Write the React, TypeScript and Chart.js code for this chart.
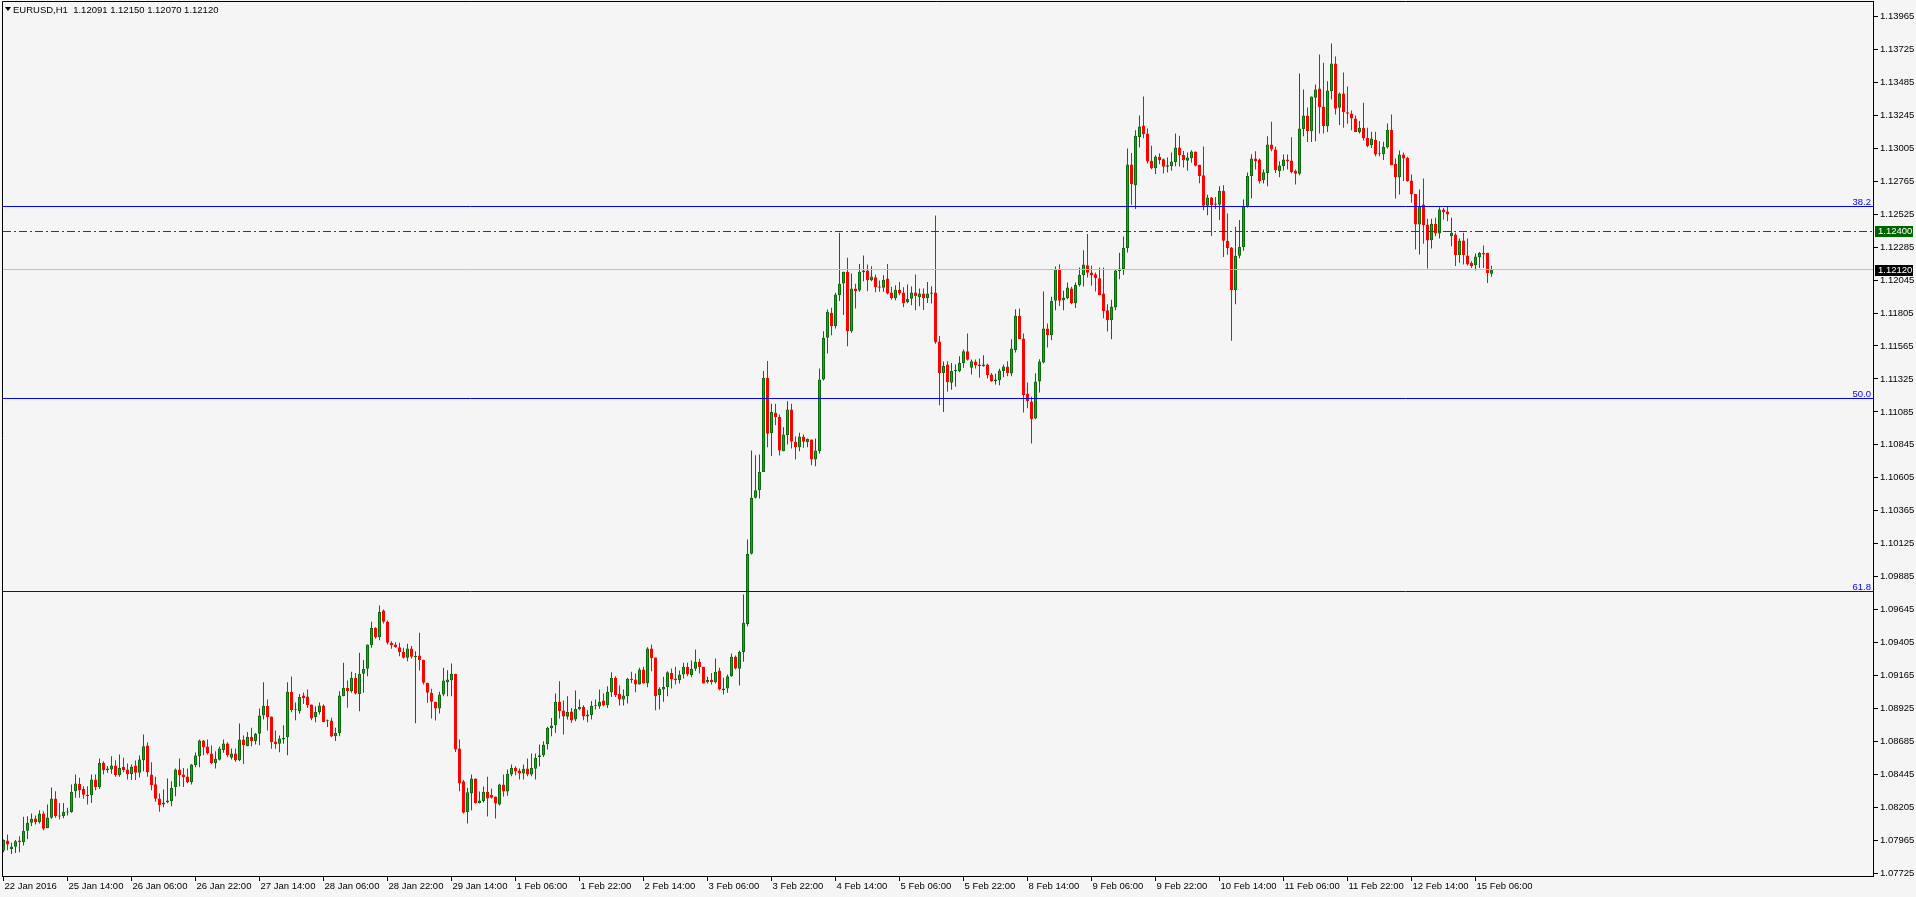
import React, { useEffect, useRef } from 'react';
import { Chart, registerables } from 'chart.js';

Chart.register(...registerables);

const SYMBOL = 'EURUSD,H1';

const OPEN = [
  1.07888, 1.07963, 1.07902, 1.07917, 1.07963, 1.07951, 1.08034, 1.08092, 1.08123, 1.08097,
  1.08160, 1.08055, 1.08128, 1.08269, 1.08145, 1.08140, 1.08167, 1.08170, 1.08322, 1.08376,
  1.08339, 1.08296, 1.08293, 1.08407, 1.08352, 1.08529, 1.08475, 1.08480, 1.08509, 1.08439,
  1.08500, 1.08480, 1.08446, 1.08509, 1.08456, 1.08548, 1.08655, 1.08444, 1.08373, 1.08269,
  1.08225, 1.08242, 1.08249, 1.08352, 1.08480, 1.08444, 1.08429, 1.08388, 1.08512, 1.08577,
  1.08691, 1.08648, 1.08597, 1.08526, 1.08551, 1.08623, 1.08670, 1.08565, 1.08597, 1.08548,
  1.08699, 1.08650, 1.08718, 1.08687, 1.08740, 1.08873, 1.08944, 1.08866, 1.08684, 1.08667,
  1.08699, 1.08716, 1.09046, 1.08912, 1.08905, 1.09019, 1.09012, 1.08954, 1.08861, 1.08898,
  1.08946, 1.08832, 1.08837, 1.08723, 1.08747, 1.09014, 1.09075, 1.09051, 1.09148, 1.09031,
  1.09177, 1.09214, 1.09386, 1.09512, 1.09444, 1.09638, 1.09556, 1.09403, 1.09391, 1.09371,
  1.09337, 1.09294, 1.09362, 1.09299, 1.09311, 1.09279, 1.09112, 1.09039, 1.08973, 1.08924,
  1.09027, 1.09116, 1.09131, 1.09177, 1.08633, 1.08395, 1.08170, 1.08305, 1.08415, 1.08237,
  1.08250, 1.08318, 1.08296, 1.08284, 1.08225, 1.08371, 1.08320, 1.08444, 1.08492, 1.08473,
  1.08451, 1.08487, 1.08444, 1.08485, 1.08572, 1.08584, 1.08665, 1.08781, 1.08803, 1.08973,
  1.08910, 1.08864, 1.08903, 1.08844, 1.08920, 1.08937, 1.08866, 1.08878, 1.08941, 1.08939,
  1.08983, 1.08949, 1.09043, 1.09148, 1.09031, 1.08990, 1.09014, 1.09141, 1.09136, 1.09099,
  1.09209, 1.09109, 1.09361, 1.09296, 1.09022, 1.09063, 1.09082, 1.09184, 1.09143, 1.09131,
  1.09172, 1.09228, 1.09168, 1.09214, 1.09265, 1.09228, 1.09116, 1.09133, 1.09116, 1.09201,
  1.09058, 1.09070, 1.09160, 1.09301, 1.09214, 1.09337, 1.09541, 1.10051, 1.10459, 1.10515,
  1.10648, 1.11333, 1.10930, 1.11078, 1.11049, 1.10799, 1.10916, 1.11103, 1.10867, 1.10828,
  1.10906, 1.10865, 1.10884, 1.10738, 1.10799, 1.11321, 1.11625, 1.11807, 1.11710, 1.11935,
  1.12020, 1.12105, 1.11673, 1.11984, 1.11969, 1.12103, 1.12115, 1.12044, 1.12066, 1.11998,
  1.11989, 1.12057, 1.11955, 1.11913, 1.11974, 1.11955, 1.11884, 1.11909, 1.11955, 1.11921,
  1.11947, 1.11913, 1.11945, 1.11955, 1.11598, 1.11369, 1.11430, 1.11297, 1.11382, 1.11382,
  1.11440, 1.11527, 1.11406, 1.11452, 1.11430, 1.11418, 1.11430, 1.11357, 1.11309, 1.11316,
  1.11382, 1.11416, 1.11365, 1.11535, 1.11785, 1.11620, 1.11219, 1.11161, 1.11037, 1.11306,
  1.11445, 1.11692, 1.11644, 1.11894, 1.12125, 1.11899, 1.11913, 1.11984, 1.11877, 1.12010,
  1.12081, 1.12154, 1.12100, 1.12088, 1.12059, 1.11947, 1.11826, 1.11753, 1.11845, 1.12112,
  1.12125, 1.12278, 1.12887, 1.12736, 1.13088, 1.13171, 1.13113, 1.12914, 1.12860, 1.12943,
  1.12926, 1.12870, 1.12875, 1.12906, 1.13011, 1.12957, 1.12914, 1.12933, 1.12982, 1.12885,
  1.12809, 1.12586, 1.12647, 1.12603, 1.12593, 1.12695, 1.12331, 1.12282, 1.11972, 1.12222,
  1.12287, 1.12581, 1.12804, 1.12931, 1.12923, 1.12773, 1.12826, 1.13033, 1.12996, 1.12839,
  1.12875, 1.12923, 1.12916, 1.12839, 1.12819, 1.13145, 1.13244, 1.13130, 1.13373, 1.13441,
  1.13310, 1.13166, 1.13421, 1.13623, 1.13300, 1.13404, 1.13268, 1.13258, 1.13222, 1.13123,
  1.13154, 1.13081, 1.13028, 1.13067, 1.12967, 1.12962, 1.13013, 1.13140, 1.12892, 1.12795,
  1.12960, 1.12936, 1.12771, 1.12673, 1.12450, 1.12596, 1.12450, 1.12336, 1.12455, 1.12384,
  1.12559, 1.12545, 1.12365, 1.12377, 1.12227, 1.12333, 1.12224, 1.12171, 1.12154, 1.12212,
  1.12244, 1.12244, 1.12091,
];

const HIGH = [
  1.07970, 1.08007, 1.07946, 1.07966, 1.07995, 1.08136, 1.08140, 1.08160, 1.08145, 1.08184,
  1.08177, 1.08225, 1.08349, 1.08322, 1.08237, 1.08237, 1.08201, 1.08371, 1.08444, 1.08420,
  1.08359, 1.08359, 1.08444, 1.08444, 1.08560, 1.08541, 1.08505, 1.08577, 1.08548, 1.08590,
  1.08565, 1.08524, 1.08517, 1.08546, 1.08582, 1.08735, 1.08679, 1.08534, 1.08427, 1.08306,
  1.08334, 1.08414, 1.08395, 1.08488, 1.08560, 1.08492, 1.08488, 1.08521, 1.08604, 1.08699,
  1.08696, 1.08699, 1.08655, 1.08614, 1.08648, 1.08699, 1.08679, 1.08633, 1.08633, 1.08815,
  1.08728, 1.08754, 1.08784, 1.08747, 1.08924, 1.09116, 1.08990, 1.08866, 1.08764, 1.08728,
  1.08803, 1.09116, 1.09157, 1.08968, 1.09031, 1.09041, 1.09063, 1.08954, 1.08941, 1.08968,
  1.08954, 1.08844, 1.08857, 1.08784, 1.09051, 1.09257, 1.09129, 1.09192, 1.09184, 1.09330,
  1.09277, 1.09391, 1.09556, 1.09517, 1.09675, 1.09646, 1.09566, 1.09415, 1.09408, 1.09403,
  1.09367, 1.09396, 1.09379, 1.09342, 1.09476, 1.09279, 1.09112, 1.09068, 1.08973, 1.09046,
  1.09221, 1.09204, 1.09252, 1.09177, 1.08699, 1.08403, 1.08347, 1.08444, 1.08415, 1.08320,
  1.08356, 1.08427, 1.08342, 1.08284, 1.08376, 1.08444, 1.08480, 1.08517, 1.08504, 1.08487,
  1.08517, 1.08560, 1.08597, 1.08597, 1.08662, 1.08686, 1.08791, 1.08856, 1.09034, 1.09124,
  1.08983, 1.09014, 1.08929, 1.09056, 1.08990, 1.08949, 1.08912, 1.08980, 1.08990, 1.09063,
  1.09034, 1.09087, 1.09189, 1.09160, 1.09092, 1.09063, 1.09148, 1.09192, 1.09179, 1.09221,
  1.09228, 1.09371, 1.09391, 1.09296, 1.09080, 1.09155, 1.09196, 1.09216, 1.09228, 1.09201,
  1.09257, 1.09257, 1.09274, 1.09354, 1.09287, 1.09228, 1.09155, 1.09184, 1.09289, 1.09221,
  1.09148, 1.09172, 1.09325, 1.09311, 1.09347, 1.09755, 1.10156, 1.10804, 1.10770, 1.10775,
  1.11382, 1.11455, 1.11144, 1.11144, 1.11066, 1.10974, 1.11163, 1.11144, 1.10906, 1.10933,
  1.10920, 1.10892, 1.10884, 1.10892, 1.11401, 1.11673, 1.11831, 1.11843, 1.11952, 1.12389,
  1.12105, 1.12207, 1.12093, 1.12018, 1.12163, 1.12224, 1.12159, 1.12146, 1.12086, 1.12042,
  1.12081, 1.12163, 1.11996, 1.12008, 1.12032, 1.11993, 1.12013, 1.11998, 1.12086, 1.11984,
  1.11984, 1.12032, 1.12001, 1.12516, 1.11637, 1.11452, 1.11454, 1.11442, 1.11430, 1.11491,
  1.11539, 1.11656, 1.11467, 1.11467, 1.11474, 1.11498, 1.11435, 1.11369, 1.11362, 1.11399,
  1.11430, 1.11454, 1.11615, 1.11833, 1.11838, 1.11656, 1.11299, 1.11195, 1.11367, 1.11469,
  1.11962, 1.11729, 1.11923, 1.12144, 1.12161, 1.11967, 1.12027, 1.11996, 1.12027, 1.12137,
  1.12263, 1.12380, 1.12149, 1.12100, 1.12137, 1.12137, 1.11870, 1.11901, 1.12125, 1.12244,
  1.12362, 1.13004, 1.12970, 1.13137, 1.13244, 1.13382, 1.13149, 1.13023, 1.12955, 1.12969,
  1.12931, 1.12938, 1.12974, 1.13113, 1.13096, 1.12986, 1.12974, 1.12991, 1.12982, 1.12885,
  1.13018, 1.12666, 1.12651, 1.12651, 1.12729, 1.12736, 1.12530, 1.12287, 1.12433, 1.12482,
  1.12632, 1.12829, 1.12962, 1.12984, 1.12931, 1.12851, 1.13093, 1.13198, 1.13016, 1.12911,
  1.12960, 1.12960, 1.13086, 1.12851, 1.13550, 1.13433, 1.13302, 1.13382, 1.13470, 1.13688,
  1.13628, 1.13494, 1.13768, 1.13674, 1.13411, 1.13557, 1.13455, 1.13280, 1.13244, 1.13203,
  1.13336, 1.13154, 1.13125, 1.13125, 1.13057, 1.13052, 1.13186, 1.13251, 1.12931, 1.12989,
  1.12974, 1.12943, 1.12814, 1.12673, 1.12705, 1.12785, 1.12491, 1.12491, 1.12499, 1.12576,
  1.12571, 1.12584, 1.12499, 1.12389, 1.12348, 1.12389, 1.12348, 1.12183, 1.12239, 1.12249,
  1.12297, 1.12244, 1.12150,
];

const LOW = [
  1.07878, 1.07893, 1.07864, 1.07873, 1.07878, 1.07927, 1.07975, 1.08068, 1.08080, 1.08087,
  1.08038, 1.08053, 1.08121, 1.08128, 1.08116, 1.08126, 1.08145, 1.08165, 1.08274, 1.08274,
  1.08267, 1.08225, 1.08237, 1.08330, 1.08339, 1.08444, 1.08456, 1.08449, 1.08427, 1.08427,
  1.08461, 1.08407, 1.08403, 1.08403, 1.08422, 1.08468, 1.08427, 1.08330, 1.08245, 1.08172,
  1.08206, 1.08235, 1.08213, 1.08286, 1.08359, 1.08352, 1.08381, 1.08371, 1.08497, 1.08497,
  1.08585, 1.08589, 1.08521, 1.08488, 1.08546, 1.08602, 1.08570, 1.08553, 1.08536, 1.08541,
  1.08521, 1.08650, 1.08650, 1.08662, 1.08657, 1.08844, 1.08764, 1.08631, 1.08631, 1.08606,
  1.08667, 1.08585, 1.08898, 1.08839, 1.08886, 1.08958, 1.08929, 1.08839, 1.08825, 1.08881,
  1.08825, 1.08789, 1.08716, 1.08687, 1.08723, 1.09014, 1.08930, 1.09039, 1.09027, 1.08905,
  1.09039, 1.09160, 1.09367, 1.09432, 1.09422, 1.09544, 1.09391, 1.09359, 1.09367, 1.09306,
  1.09289, 1.09269, 1.09289, 1.08817, 1.09201, 1.09099, 1.08966, 1.08852, 1.08837, 1.08889,
  1.09014, 1.09014, 1.09014, 1.08607, 1.08322, 1.08160, 1.08087, 1.08184, 1.08233, 1.08233,
  1.08240, 1.08138, 1.08269, 1.08123, 1.08218, 1.08283, 1.08290, 1.08432, 1.08439, 1.08407,
  1.08407, 1.08432, 1.08432, 1.08407, 1.08504, 1.08572, 1.08626, 1.08723, 1.08747, 1.08852,
  1.08735, 1.08844, 1.08820, 1.08832, 1.08912, 1.08839, 1.08825, 1.08844, 1.08917, 1.08922,
  1.08941, 1.08929, 1.09009, 1.09009, 1.08946, 1.08946, 1.08961, 1.09111, 1.09043, 1.09099,
  1.09107, 1.09080, 1.09196, 1.08912, 1.08917, 1.08973, 1.09014, 1.09070, 1.09099, 1.09107,
  1.09143, 1.09160, 1.09153, 1.09197, 1.09180, 1.09107, 1.09107, 1.09099, 1.09107, 1.09058,
  1.09027, 1.09039, 1.09155, 1.09209, 1.09092, 1.09265, 1.09524, 1.10046, 1.10454, 1.10454,
  1.10648, 1.10828, 1.10763, 1.10988, 1.10767, 1.10799, 1.10848, 1.10818, 1.10738, 1.10799,
  1.10823, 1.10828, 1.10697, 1.10690, 1.10780, 1.11314, 1.11510, 1.11644, 1.11692, 1.11892,
  1.11790, 1.11564, 1.11661, 1.11838, 1.11960, 1.12037, 1.11964, 1.12037, 1.11957, 1.11960,
  1.11960, 1.11940, 1.11904, 1.11899, 1.11935, 1.11848, 1.11877, 1.11862, 1.11826, 1.11855,
  1.11828, 1.11879, 1.11874, 1.11581, 1.11134, 1.11085, 1.11231, 1.11246, 1.11268, 1.11374,
  1.11406, 1.11459, 1.11357, 1.11401, 1.11333, 1.11413, 1.11328, 1.11304, 1.11284, 1.11280,
  1.11338, 1.11345, 1.11345, 1.11518, 1.11615, 1.11081, 1.11112, 1.10855, 1.11032, 1.11226,
  1.11437, 1.11554, 1.11607, 1.11826, 1.11857, 1.11826, 1.11906, 1.11870, 1.11841, 1.11998,
  1.11998, 1.12064, 1.12003, 1.11962, 1.11935, 1.11768, 1.11670, 1.11615, 1.11826, 1.12052,
  1.12083, 1.12246, 1.12593, 1.12562, 1.13011, 1.13079, 1.12894, 1.12853, 1.12817, 1.12889,
  1.12821, 1.12829, 1.12841, 1.12875, 1.12872, 1.12865, 1.12841, 1.12899, 1.12872, 1.12751,
  1.12554, 1.12518, 1.12367, 1.12562, 1.12482, 1.12214, 1.12229, 1.11603, 1.11870, 1.12205,
  1.12258, 1.12574, 1.12642, 1.12851, 1.12749, 1.12749, 1.12729, 1.12984, 1.12826, 1.12795,
  1.12843, 1.12851, 1.12821, 1.12741, 1.12809, 1.13093, 1.13050, 1.13050, 1.13057, 1.13113,
  1.13113, 1.13123, 1.13361, 1.13251, 1.13174, 1.13154, 1.13183, 1.13137, 1.13123, 1.13113,
  1.13062, 1.13013, 1.13008, 1.12948, 1.12948, 1.12919, 1.13004, 1.12882, 1.12639, 1.12669,
  1.12766, 1.12761, 1.12608, 1.12268, 1.12232, 1.12309, 1.12130, 1.12275, 1.12365, 1.12348,
  1.12486, 1.12474, 1.12292, 1.12147, 1.12171, 1.12159, 1.12151, 1.12134, 1.12115, 1.12134,
  1.12134, 1.12023, 1.12070,
];

const CLOSE = [
  1.07966, 1.07934, 1.07919, 1.07958, 1.07951, 1.08034, 1.08092, 1.08121, 1.08097, 1.08160,
  1.08048, 1.08131, 1.08269, 1.08140, 1.08138, 1.08172, 1.08174, 1.08318, 1.08378, 1.08330,
  1.08296, 1.08286, 1.08407, 1.08352, 1.08529, 1.08475, 1.08488, 1.08509, 1.08439, 1.08492,
  1.08475, 1.08446, 1.08500, 1.08456, 1.08553, 1.08650, 1.08461, 1.08366, 1.08267, 1.08220,
  1.08240, 1.08254, 1.08347, 1.08480, 1.08439, 1.08424, 1.08388, 1.08517, 1.08582, 1.08691,
  1.08643, 1.08599, 1.08526, 1.08558, 1.08633, 1.08670, 1.08585, 1.08597, 1.08548, 1.08699,
  1.08657, 1.08718, 1.08687, 1.08740, 1.08873, 1.08944, 1.08861, 1.08679, 1.08665, 1.08706,
  1.08711, 1.09046, 1.08912, 1.08917, 1.09009, 1.09000, 1.08949, 1.08852, 1.08900, 1.08946,
  1.08825, 1.08837, 1.08721, 1.08747, 1.09019, 1.09075, 1.09051, 1.09148, 1.09034, 1.09177,
  1.09214, 1.09391, 1.09512, 1.09444, 1.09629, 1.09556, 1.09403, 1.09386, 1.09371, 1.09337,
  1.09294, 1.09362, 1.09301, 1.09303, 1.09277, 1.09112, 1.09039, 1.08973, 1.08924, 1.09027,
  1.09129, 1.09136, 1.09177, 1.08626, 1.08378, 1.08165, 1.08315, 1.08415, 1.08237, 1.08254,
  1.08318, 1.08269, 1.08274, 1.08233, 1.08371, 1.08320, 1.08449, 1.08492, 1.08466, 1.08451,
  1.08485, 1.08444, 1.08492, 1.08565, 1.08584, 1.08660, 1.08784, 1.08801, 1.08973, 1.08905,
  1.08866, 1.08900, 1.08837, 1.08922, 1.08937, 1.08866, 1.08881, 1.08944, 1.08946, 1.08973,
  1.08946, 1.09046, 1.09148, 1.09022, 1.08990, 1.09019, 1.09141, 1.09131, 1.09099, 1.09209,
  1.09107, 1.09361, 1.09291, 1.09014, 1.09068, 1.09082, 1.09189, 1.09136, 1.09131, 1.09172,
  1.09228, 1.09172, 1.09214, 1.09265, 1.09226, 1.09107, 1.09133, 1.09116, 1.09192, 1.09063,
  1.09070, 1.09160, 1.09301, 1.09216, 1.09337, 1.09549, 1.10051, 1.10459, 1.10515, 1.10648,
  1.11333, 1.10925, 1.11085, 1.11047, 1.10804, 1.10920, 1.11103, 1.10867, 1.10828, 1.10906,
  1.10867, 1.10889, 1.10738, 1.10804, 1.11321, 1.11625, 1.11814, 1.11710, 1.11940, 1.12018,
  1.12105, 1.11673, 1.11984, 1.11964, 1.12105, 1.12115, 1.12044, 1.12071, 1.11993, 1.11989,
  1.12047, 1.11947, 1.11913, 1.11974, 1.11947, 1.11877, 1.11909, 1.11955, 1.11928, 1.11947,
  1.11913, 1.11947, 1.11955, 1.11593, 1.11369, 1.11420, 1.11301, 1.11382, 1.11389, 1.11442,
  1.11527, 1.11464, 1.11454, 1.11423, 1.11418, 1.11430, 1.11352, 1.11309, 1.11321, 1.11386,
  1.11416, 1.11369, 1.11547, 1.11785, 1.11615, 1.11209, 1.11165, 1.11032, 1.11306, 1.11452,
  1.11692, 1.11644, 1.11894, 1.12125, 1.11894, 1.11918, 1.11991, 1.11877, 1.12010, 1.12083,
  1.12159, 1.12098, 1.12081, 1.12059, 1.11935, 1.11819, 1.11753, 1.11853, 1.12115, 1.12129,
  1.12280, 1.12887, 1.12744, 1.13096, 1.13164, 1.13108, 1.12909, 1.12860, 1.12945, 1.12918,
  1.12870, 1.12882, 1.12909, 1.13011, 1.12955, 1.12918, 1.12938, 1.12982, 1.12877, 1.12804,
  1.12586, 1.12647, 1.12591, 1.12593, 1.12695, 1.12331, 1.12278, 1.11972, 1.12222, 1.12287,
  1.12581, 1.12804, 1.12931, 1.12911, 1.12766, 1.12831, 1.13033, 1.12996, 1.12846, 1.12880,
  1.12923, 1.12911, 1.12831, 1.12819, 1.13149, 1.13244, 1.13130, 1.13382, 1.13433, 1.13305,
  1.13166, 1.13426, 1.13623, 1.13293, 1.13404, 1.13268, 1.13256, 1.13222, 1.13123, 1.13154,
  1.13079, 1.13021, 1.13077, 1.12960, 1.12962, 1.13016, 1.13140, 1.12882, 1.12795, 1.12960,
  1.12931, 1.12766, 1.12669, 1.12450, 1.12581, 1.12445, 1.12333, 1.12455, 1.12384, 1.12559,
  1.12540, 1.12523, 1.12389, 1.12227, 1.12333, 1.12227, 1.12159, 1.12147, 1.12217, 1.12244,
  1.12231, 1.12096, 1.12120,
];

// time axis: one label every 16 hourly bars
const X_TICK_INDEX = [0, 16, 32, 48, 64, 80, 96, 112, 128, 144, 160, 176, 192, 208, 224, 240, 256, 272, 288, 304, 320, 336, 352, 368];
const X_TICK_LABELS = [
  '22 Jan 2016', '25 Jan 14:00', '26 Jan 06:00', '26 Jan 22:00', '27 Jan 14:00', '28 Jan 06:00',
  '28 Jan 22:00', '29 Jan 14:00', '1 Feb 06:00', '1 Feb 22:00', '2 Feb 14:00', '3 Feb 06:00',
  '3 Feb 22:00', '4 Feb 14:00', '5 Feb 06:00', '5 Feb 22:00', '8 Feb 14:00', '9 Feb 06:00',
  '9 Feb 22:00', '10 Feb 14:00', '11 Feb 06:00', '11 Feb 22:00', '12 Feb 14:00', '15 Feb 06:00',
];

const Y_TICKS = [
  1.13965, 1.13725, 1.13485, 1.13245, 1.13005, 1.12765, 1.12525, 1.12285, 1.12045, 1.11805,
  1.11565, 1.11325, 1.11085, 1.10845, 1.10605, 1.10365, 1.10125, 1.09885, 1.09645, 1.09405,
  1.09165, 1.08925, 1.08685, 1.08445, 1.08205, 1.07965, 1.07725,
];

const FIB_LEVELS = [1.12583, 1.1118, 1.09777];
const FIB_LABELS = ['38.2', '50.0', '61.8'];
const ALERT_LEVEL = 1.124;
const BID_LEVEL = 1.1212;

const Y_MIN = 1.077046;
const Y_MAX = 1.140779;
const X_MIN = -0.375;
const X_MAX = 467.375;

const BG = '#f5f5f5';
const UP_FILL = '#1ca51c';
const UP_LINE = '#0b6c0b';
const DOWN = '#ff0000';
const FONT_FAMILY = '"Liberation Sans", Arial, sans-serif';
const AXIS_FONT = { family: FONT_FAMILY, size: 9.5 };
const AXIS_FONT_CSS = `9.5px ${FONT_FAMILY}`;
const HEAD_FONT_CSS = `9.5px ${FONT_FAMILY}`;

const overlayPlugin = {
  id: 'mt4Overlay',
  afterDatasetsDraw(chart: any) {
    const { ctx, chartArea: a, scales } = chart;
    const ys = scales.y;
    const py = (v: number) => Math.floor(ys.getPixelForValue(v)) + 0.5;
    const hline = (y: number) => {
      ctx.beginPath();
      ctx.moveTo(a.left + 1, y);
      ctx.lineTo(a.right, y);
      ctx.stroke();
    };
    ctx.save();
    ctx.lineWidth = 1;
    ctx.strokeStyle = '#c0c0c0';
    hline(py(BID_LEVEL));
    ctx.strokeStyle = '#006400';
    ctx.setLineDash([8, 3, 2, 3]);
    hline(py(ALERT_LEVEL));
    ctx.setLineDash([]);
    ctx.strokeStyle = '#0000ff';
    ctx.fillStyle = '#0000ff';
    ctx.font = AXIS_FONT_CSS;
    ctx.textAlign = 'right';
    ctx.textBaseline = 'bottom';
    FIB_LEVELS.forEach((lv, i) => {
      const y = py(lv);
      hline(y);
      ctx.fillText(FIB_LABELS[i], a.right - 2, y + 0.5);
    });
    ctx.restore();
  },
  afterDraw(chart: any) {
    const { ctx, chartArea: a, scales } = chart;
    const ys = scales.y;
    ctx.save();
    // frame
    ctx.strokeStyle = '#000';
    ctx.lineWidth = 1;
    ctx.beginPath();
    ctx.moveTo(a.left + 0.5, a.bottom);
    ctx.lineTo(a.left + 0.5, a.top + 0.5);
    ctx.lineTo(a.right, a.top + 0.5);
    ctx.stroke();
    // header
    ctx.fillStyle = '#000';
    ctx.beginPath();
    ctx.moveTo(5, 7);
    ctx.lineTo(11, 7);
    ctx.lineTo(8, 11);
    ctx.closePath();
    ctx.fill();
    const n = CLOSE.length - 1;
    const head = `${SYMBOL}  ${OPEN[n].toFixed(5)} ${HIGH[n].toFixed(5)} ${LOW[n].toFixed(5)} ${CLOSE[n].toFixed(5)}`;
    ctx.font = HEAD_FONT_CSS;
    ctx.textAlign = 'left';
    ctx.textBaseline = 'middle';
    ctx.fillText(head, 13, 10);
    // price boxes
    const box = (v: number, bg: string) => {
      const y = Math.round(ys.getPixelForValue(v));
      ctx.fillStyle = bg;
      ctx.fillRect(a.right + 2, y - 5, 38, 11);
      ctx.fillStyle = '#fff';
      ctx.font = AXIS_FONT_CSS;
      ctx.textAlign = 'left';
      ctx.textBaseline = 'middle';
      ctx.fillText(v.toFixed(5), a.right + 5, y + 0.5);
    };
    box(ALERT_LEVEL, '#006400');
    box(BID_LEVEL, '#000000');
    ctx.restore();
  },
};

export default function App() {
  const ref = useRef<HTMLCanvasElement>(null);
  useEffect(() => {
    document.body.style.margin = '0';
    document.body.style.background = BG;
    document.body.style.overflow = 'hidden';
    const idx = OPEN.map((_, i) => i);
    const up = (i: number) => CLOSE[i] >= OPEN[i];
    const chart = new Chart(ref.current as HTMLCanvasElement, {
      type: 'bar',
      data: {
        datasets: [
          {
            label: 'body',
            data: idx.map((i) => ({ x: i, y: [OPEN[i], CLOSE[i]] })) as any,
            backgroundColor: idx.map((i) => (up(i) ? UP_FILL : DOWN)),
            borderColor: idx.map((i) => (up(i) ? UP_LINE : DOWN)),
            borderWidth: 1,
            borderSkipped: false,
            barThickness: 3,
            minBarLength: 1,
            grouped: false,
            inflateAmount: 0,
            order: 0,
          } as any,
          {
            label: 'wick',
            data: idx.map((i) => ({ x: i, y: [LOW[i], HIGH[i]] })) as any,
            backgroundColor: idx.map((i) => (up(i) ? UP_LINE : DOWN)),
            borderWidth: 0,
            barThickness: 1,
            minBarLength: 1,
            grouped: false,
            inflateAmount: 0,
            order: 1,
          } as any,
        ],
      },
      options: {
        responsive: false,
        animation: false,
        devicePixelRatio: 1,
        layout: { padding: { left: 2, top: 1, right: 0, bottom: 0 } },
        plugins: { legend: { display: false }, tooltip: { enabled: false }, title: { display: false } },
        scales: {
          x: {
            type: 'linear',
            min: X_MIN,
            max: X_MAX,
            offset: false,
            position: 'bottom',
            grid: { display: true, drawOnChartArea: false, drawTicks: true, tickLength: 5, color: '#000', offset: false },
            border: { display: true, color: '#000', width: 1 },
            ticks: {
              autoSkip: false,
              maxRotation: 0,
              minRotation: 0,
              align: 'start',
              labelOffset: 1,
              padding: 0,
              color: '#000',
              font: AXIS_FONT,
              callback: (_v: any, i: number) => X_TICK_LABELS[i] ?? '',
            },
            afterBuildTicks: (s: any) => {
              s.ticks = X_TICK_INDEX.map((v) => ({ value: v }));
            },
            afterFit: (s: any) => {
              s.height = 21;
              s.paddingLeft = 0;
              s.paddingRight = 0;
            },
          } as any,
          y: {
            type: 'linear',
            position: 'right',
            min: Y_MIN,
            max: Y_MAX,
            beginAtZero: false,
            grid: { display: true, drawOnChartArea: false, drawTicks: true, tickLength: 5, color: '#000' },
            border: { display: true, color: '#000', width: 1 },
            ticks: {
              autoSkip: false,
              padding: 2,
              color: '#000',
              font: AXIS_FONT,
              callback: (v: any) => Number(v).toFixed(5),
            },
            afterBuildTicks: (s: any) => {
              s.ticks = Y_TICKS.map((v) => ({ value: v }));
            },
            afterFit: (s: any) => {
              s.width = 43;
              s.paddingTop = 0;
              s.paddingBottom = 0;
            },
          } as any,
        },
      },
      plugins: [overlayPlugin],
    });
    return () => chart.destroy();
  }, []);
  return (
    <div style={{ width: 1916, height: 897, background: BG }}>
      <canvas ref={ref} width={1916} height={897} style={{ display: 'block', width: 1916, height: 897 }} />
    </div>
  );
}
